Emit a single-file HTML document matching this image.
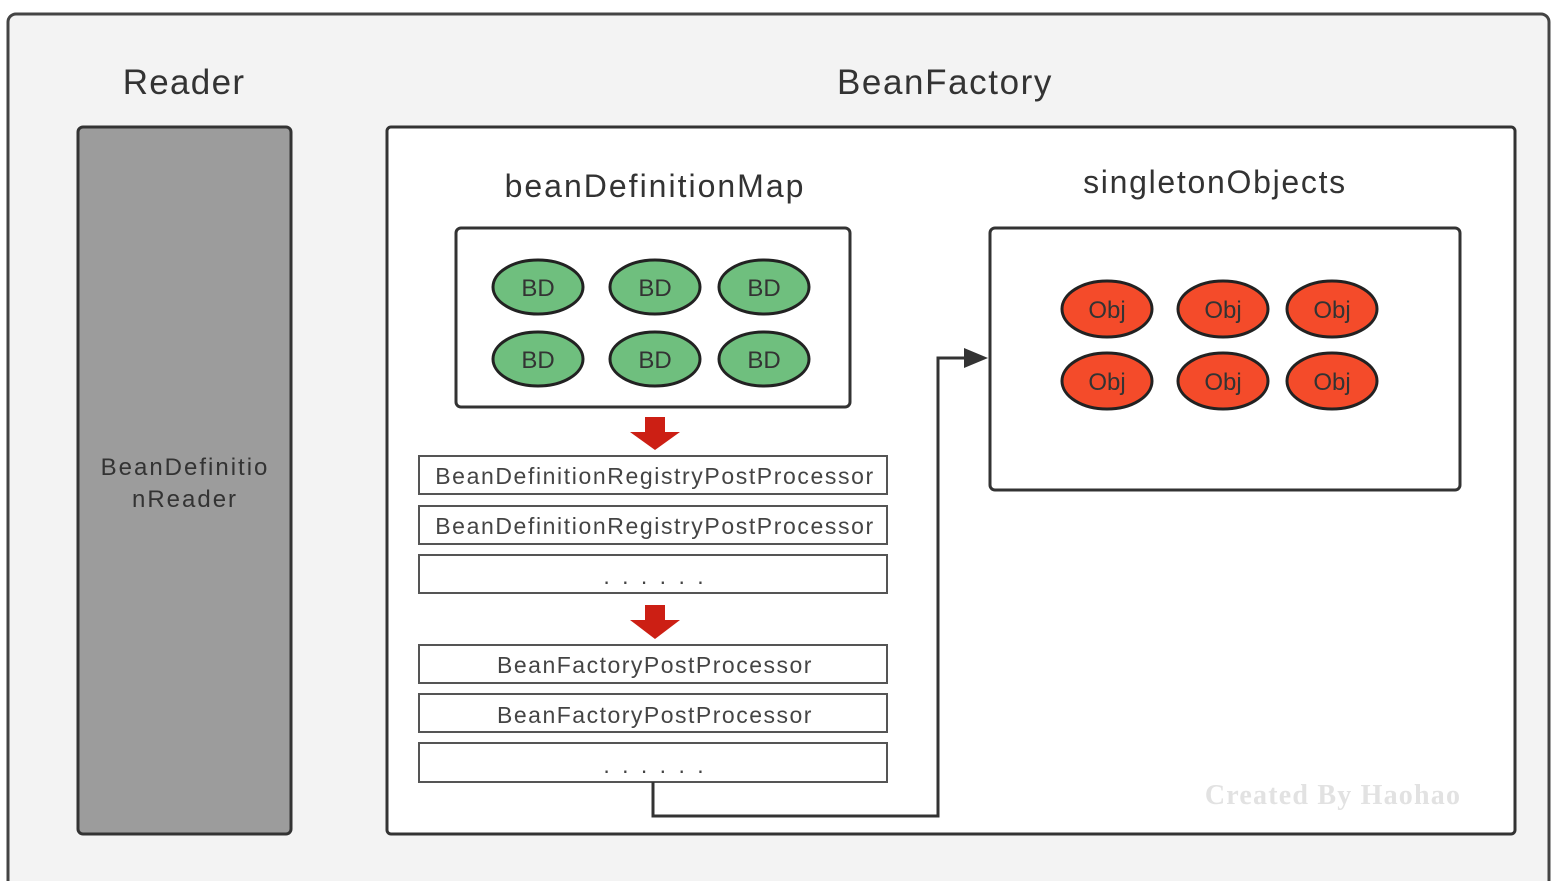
<!DOCTYPE html>
<html><head><style>body{margin:0;background:#fff}svg{display:block}</style></head><body>
<svg width="1552" height="881" xmlns="http://www.w3.org/2000/svg" font-family="Liberation Sans, sans-serif">
<rect x="8" y="14" width="1541" height="880" rx="8" fill="#f3f3f3" stroke="#444" stroke-width="3"/>
<text x="184" y="94" font-size="35" fill="#333" text-anchor="middle" letter-spacing="1.3">Reader</text>
<text x="945" y="94" font-size="35" fill="#333" text-anchor="middle" letter-spacing="1.6">BeanFactory</text>
<rect x="78" y="127" width="213" height="707" rx="5" fill="#9c9c9c" stroke="#333" stroke-width="3"/>
<text x="185" y="475" font-size="24" fill="#333" text-anchor="middle" letter-spacing="2">BeanDefinitio</text>
<text x="185" y="507" font-size="24" fill="#333" text-anchor="middle" letter-spacing="2">nReader</text>
<rect x="387" y="127" width="1128" height="707" rx="4" fill="#fff" stroke="#333" stroke-width="3"/>
<text x="655" y="197" font-size="32" fill="#333" text-anchor="middle" letter-spacing="2">beanDefinitionMap</text>
<text x="1215" y="193" font-size="32" fill="#333" text-anchor="middle" letter-spacing="1.7">singletonObjects</text>
<rect x="456" y="228" width="394" height="179" rx="5" fill="#fff" stroke="#333" stroke-width="3"/>
<rect x="990" y="228" width="470" height="262" rx="5" fill="#fff" stroke="#333" stroke-width="3"/>
<g fill="#6fbf7e" stroke="#222" stroke-width="3">
<ellipse cx="538" cy="287" rx="45" ry="27"/><ellipse cx="655" cy="287" rx="45" ry="27"/><ellipse cx="764" cy="287" rx="45" ry="27"/>
<ellipse cx="538" cy="359" rx="45" ry="27"/><ellipse cx="655" cy="359" rx="45" ry="27"/><ellipse cx="764" cy="359" rx="45" ry="27"/>
</g>
<g font-size="24" fill="#333" text-anchor="middle">
<text x="538" y="296">BD</text><text x="655" y="296">BD</text><text x="764" y="296">BD</text>
<text x="538" y="368">BD</text><text x="655" y="368">BD</text><text x="764" y="368">BD</text>
</g>
<g fill="#f44b2a" stroke="#222" stroke-width="3">
<ellipse cx="1107" cy="309" rx="45" ry="28"/><ellipse cx="1223" cy="309" rx="45" ry="28"/><ellipse cx="1332" cy="309" rx="45" ry="28"/>
<ellipse cx="1107" cy="381" rx="45" ry="28"/><ellipse cx="1223" cy="381" rx="45" ry="28"/><ellipse cx="1332" cy="381" rx="45" ry="28"/>
</g>
<g font-size="24" fill="#333" text-anchor="middle">
<text x="1107" y="318">Obj</text><text x="1223" y="318">Obj</text><text x="1332" y="318">Obj</text>
<text x="1107" y="390">Obj</text><text x="1223" y="390">Obj</text><text x="1332" y="390">Obj</text>
</g>
<g fill="#cc1f14">
<polygon points="645,417 665,417 665,432 680,432 655,450 630,432 645,432"/>
<polygon points="645,605 665,605 665,620 680,620 655,639 630,620 645,620"/>
</g>
<g fill="#fff" stroke="#555" stroke-width="2">
<rect x="419" y="456" width="468" height="38"/><rect x="419" y="506" width="468" height="38"/><rect x="419" y="555" width="468" height="38"/>
<rect x="419" y="645" width="468" height="38"/><rect x="419" y="694" width="468" height="38"/><rect x="419" y="743" width="468" height="39"/>
</g>
<g font-size="23" fill="#444" text-anchor="middle">
<text x="655" y="484" letter-spacing="1.6">BeanDefinitionRegistryPostProcessor</text>
<text x="655" y="534" letter-spacing="1.6">BeanDefinitionRegistryPostProcessor</text>
<text x="655" y="584" letter-spacing="3">. . .   . . .</text>
<text x="655" y="673" letter-spacing="1.5">BeanFactoryPostProcessor</text>
<text x="655" y="723" letter-spacing="1.5">BeanFactoryPostProcessor</text>
<text x="655" y="773" letter-spacing="3">. . .   . . .</text>
</g>
<polyline points="653,782 653,816 938,816 938,358 968,358" fill="none" stroke="#333" stroke-width="3"/>
<polygon points="964,348 988,358 964,368" fill="#333"/>
<text x="1333" y="804" font-size="28" font-family="Liberation Serif, serif" font-weight="bold" fill="#e2e2e2" text-anchor="middle" letter-spacing="1.2">Created By Haohao</text>
</svg>
</body></html>
